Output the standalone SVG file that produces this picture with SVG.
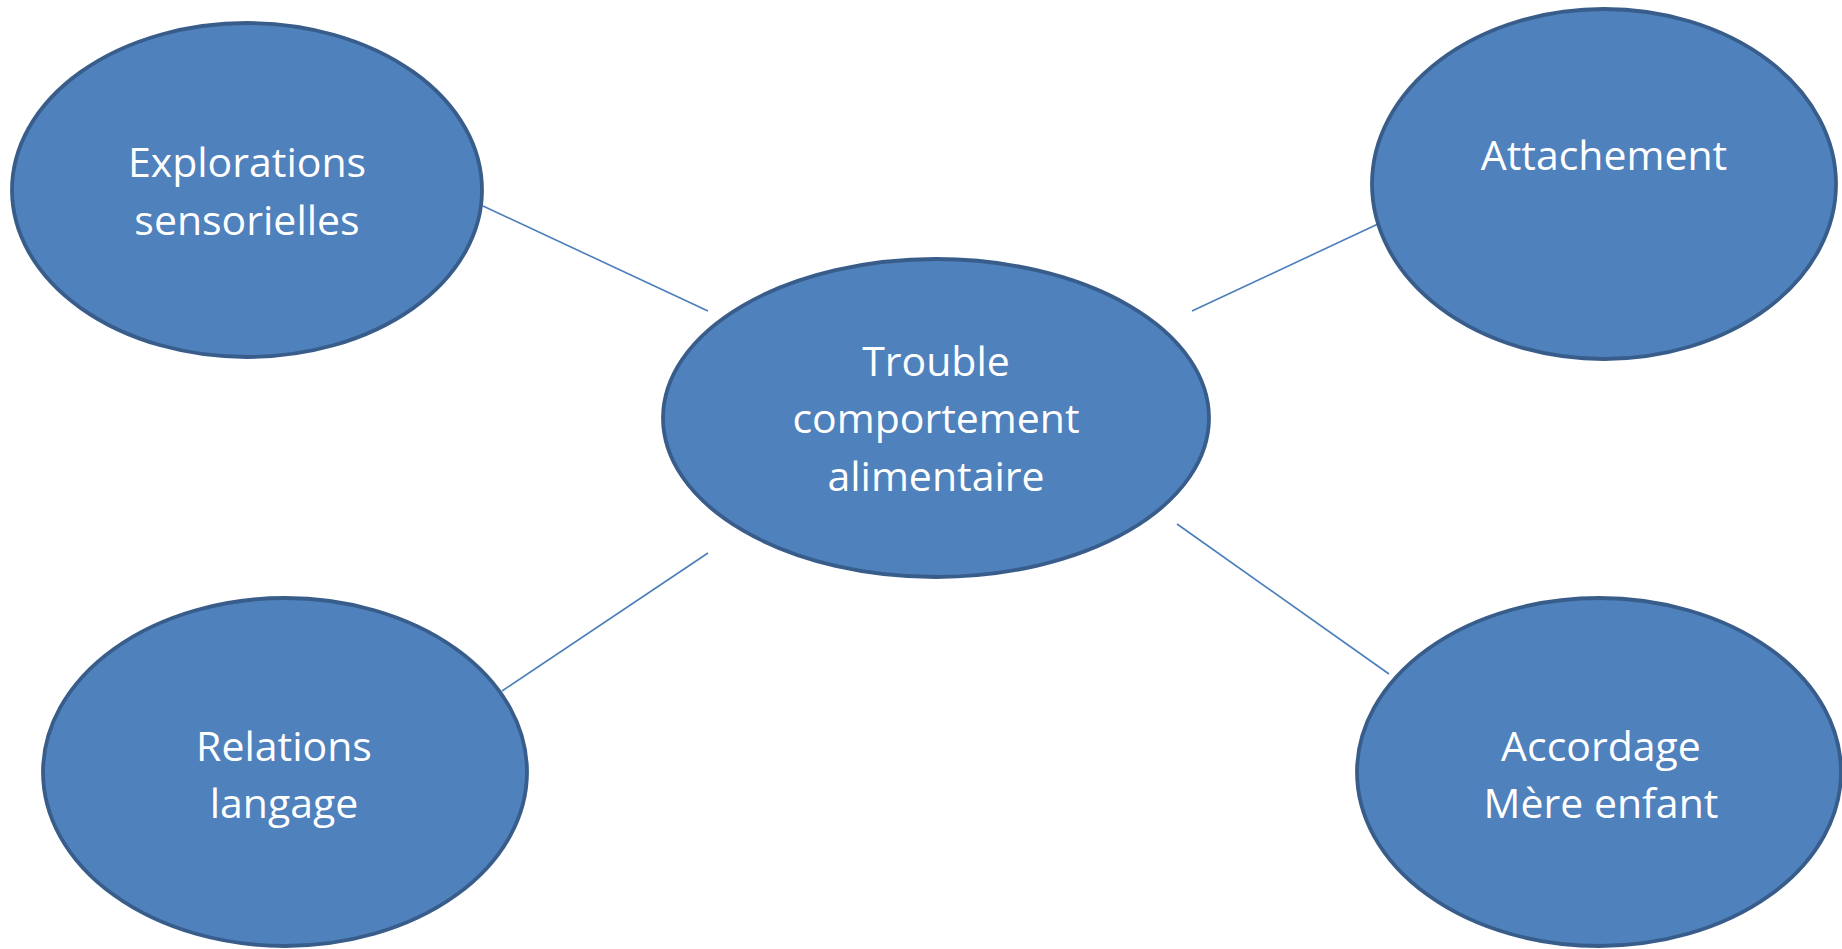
<svg xmlns="http://www.w3.org/2000/svg" width="1842" height="949" viewBox="0 0 1842 949">
<style>
.node ellipse{fill:#4F81BD;stroke:#385D8A;stroke-width:3.8}
.node text{fill:#FFFFFF;font-family:"Open Sans","Liberation Sans",sans-serif;font-size:41px;text-anchor:middle}
.edges line{stroke:#4A7EBB;stroke-width:1.6}
</style>
<rect width="1842" height="949" fill="#FFFFFF"/>
<g class="edges">
<line x1="483" y1="206" x2="708" y2="311"/>
<line x1="1192" y1="311" x2="1378" y2="224"/>
<line x1="708" y1="553" x2="502" y2="691"/>
<line x1="1177" y1="524" x2="1389" y2="674"/>
</g>
<g id="explorations" class="node">
<ellipse cx="247" cy="190" rx="235" ry="167"/>
<text x="247" y="177">Explorations</text>
<text x="247" y="235">sensorielles</text>
</g>
<g id="attachement" class="node">
<ellipse cx="1604" cy="184" rx="232" ry="175"/>
<text x="1604" y="170">Attachement</text>
</g>
<g id="trouble" class="node">
<ellipse cx="936" cy="418" rx="273" ry="159"/>
<text x="936" y="376">Trouble</text>
<text x="936" y="433">comportement</text>
<text x="936" y="491">alimentaire</text>
</g>
<g id="relations" class="node">
<ellipse cx="285" cy="772" rx="242" ry="174"/>
<text x="284" y="761">Relations</text>
<text x="284" y="818">langage</text>
</g>
<g id="accordage" class="node">
<ellipse cx="1599" cy="772" rx="242" ry="174"/>
<text x="1601" y="761">Accordage</text>
<text x="1601" y="818">Mère enfant</text>
</g>
</svg>
